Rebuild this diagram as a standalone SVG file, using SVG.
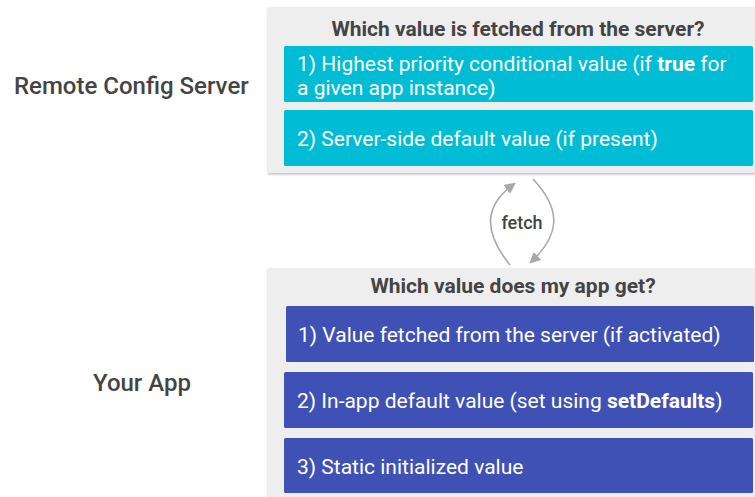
<svg xmlns="http://www.w3.org/2000/svg" width="755" height="497" viewBox="0 0 755 497">
  <defs>
    <filter id="shadow" x="-5%" y="-5%" width="110%" height="115%">
      <feDropShadow dx="0" dy="1.5" stdDeviation="1.2" flood-color="#000" flood-opacity="0.25"/>
    </filter>
    <marker id="arrow" viewBox="0 0 10 10" refX="8" refY="5" markerWidth="7" markerHeight="7" orient="auto">
      <path d="M0,0 L10,5 L0,10 z" fill="#a8a8a8"/>
    </marker>
  </defs>
  <style>
    text { font-family: Roboto, "Liberation Sans", sans-serif; }
    .side { font-size: 24px; font-weight: 500; fill: #444; }
    .title { font-size: 21px; font-weight: 700; fill: #444; text-anchor: middle; }
    .item { font-size: 21px; fill: #fff; }
    .panel { fill: #eeeeee; filter: url(#shadow); }
    .server { fill: #00bcd4; }
    .app { fill: #3f51b5; }
    .link { fill: none; stroke: #a8a8a8; stroke-width: 1.6; marker-end: url(#arrow); }
    .label { font-size: 18px; font-weight: 500; fill: #444; text-anchor: middle; }
  </style>
  <rect width="755" height="497" fill="#fff"/>

  <g id="server-label">
    <text class="side" x="14" y="94">Remote Config Server</text>
  </g>
  <g id="app-label">
    <text class="side" x="93" y="391">Your App</text>
  </g>

  <g id="server-panel">
    <rect class="panel" x="268" y="7" width="492" height="166"/>
    <text class="title" x="518" y="36">Which value is fetched from the server?</text>
  </g>
  <g id="server-item-1">
    <rect class="server" x="284" y="46" width="469" height="56" rx="1.5"/>
    <text class="item" x="297" y="71">1) Highest priority conditional value (if <tspan font-weight="700">true</tspan> for</text>
    <text class="item" x="297" y="95">a given app instance)</text>
  </g>
  <g id="server-item-2">
    <rect class="server" x="284" y="110" width="469" height="56" rx="1.5"/>
    <text class="item" x="297" y="146">2) Server-side default value (if present)</text>
  </g>

  <g id="app-panel">
    <rect class="panel" x="268" y="268" width="492" height="235"/>
    <text class="title" x="513" y="293">Which value does my app get?</text>
  </g>
  <g id="app-item-1">
    <rect class="app" x="286" y="306" width="468" height="56" rx="1.5"/>
    <text class="item" x="298" y="342">1) Value fetched from the server (if activated)</text>
  </g>
  <g id="app-item-2">
    <rect class="app" x="284" y="372" width="469" height="56" rx="1.5"/>
    <text class="item" x="297" y="408">2) In-app default value (set using <tspan font-weight="700">setDefaults</tspan>)</text>
  </g>
  <g id="app-item-3">
    <rect class="app" x="284" y="438" width="469" height="55" rx="1.5"/>
    <text class="item" x="297" y="474">3) Static initialized value</text>
  </g>

  <g id="connectors">
    <path class="link" d="M510,265 C482,230 485,205 514,184"/>
    <path class="link" d="M533,179 C562,210 560,235 531,262"/>
    <text class="label" x="522" y="229">fetch</text>
  </g>
</svg>
